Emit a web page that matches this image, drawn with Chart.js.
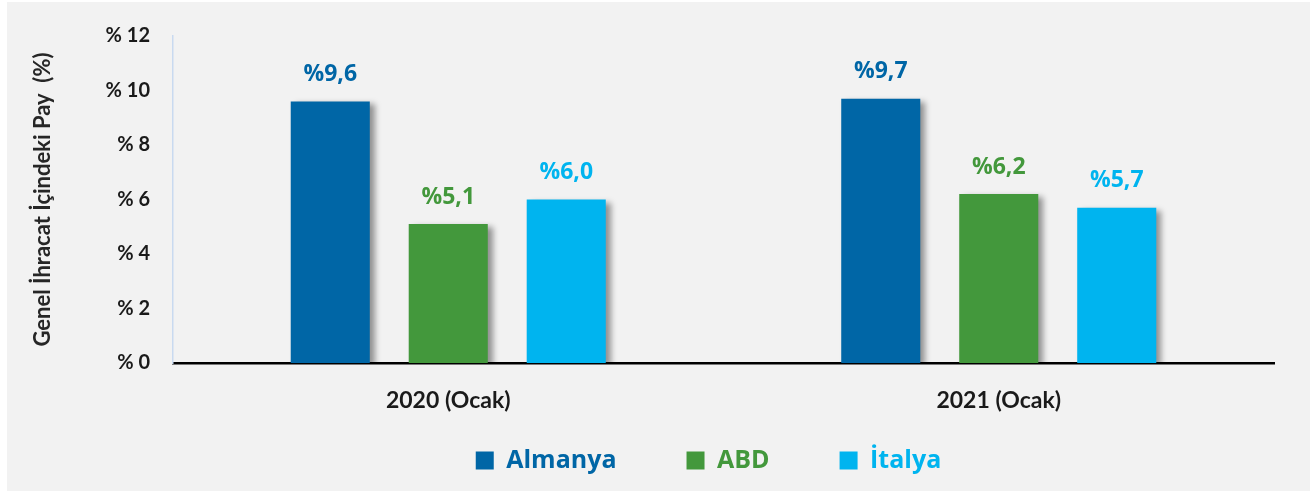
<!DOCTYPE html>
<html>
<head>
<meta charset="utf-8">
<script src="https://cdn.jsdelivr.net/npm/chart.js@4.4.1/dist/chart.umd.min.js"></script>
<style>
  html, body { margin: 0; padding: 0; background: #ffffff; }
  #wrap { width: 1312px; height: 494px; }
</style>
</head>
<body>
<div id="wrap"><canvas id="c" width="1312" height="494"></canvas></div>
<script>
const categories = ['2020 (Ocak)', '2021 (Ocak)'];
const seriesNames = ['Almanya', 'ABD', 'İtalya'];
const almanya = [9.6, 9.7];
const abd = [5.1, 6.2];
const italya = [6.0, 5.7];
const yTicks = [0, 2, 4, 6, 8, 10, 12];
const yTitle = 'Genel İhracat İçindeki Pay  (%)';
const colors = ['#0066a6', '#43983c', '#00b4ef'];

const bgPlugin = {
  id: 'bg',
  beforeDraw(chart) {
    const ctx = chart.ctx;
    ctx.save();
    ctx.fillStyle = '#ffffff';
    ctx.fillRect(0, 0, chart.width, chart.height);
    ctx.fillStyle = '#f2f2f2';
    ctx.fillRect(7, 2, 1303, 489);
    ctx.restore();
  }
};

const shadowLabelPlugin = {
  id: 'shadowLabels',
  beforeDatasetsDraw(chart) {
    const ctx = chart.ctx;
    ctx.save();
    ctx.shadowColor = 'rgba(0,0,0,0.4)';
    ctx.shadowBlur = 6;
    ctx.shadowOffsetX = 5;
    ctx.shadowOffsetY = 3;
  },
  afterDatasetsDraw(chart) {
    const ctx = chart.ctx;
    ctx.restore();
    ctx.save();
    ctx.font = 'bold 23px "Open Sans"';
    ctx.textAlign = 'center';
    ctx.textBaseline = 'middle';
    chart.data.datasets.forEach((ds, i) => {
      const meta = chart.getDatasetMeta(i);
      ctx.fillStyle = ds.backgroundColor;
      meta.data.forEach((el, j) => {
        const v = ds.data[j];
        const txt = '%' + v.toFixed(1).replace('.', ',');
        ctx.fillText(txt, el.x, el.y - 27);
      });
    });
    ctx.restore();
  }
};

const layoutFix = {
  id: 'layoutFix',
  afterLayout(chart) {
    const lg = chart.legend;
    if (lg) { lg.left += 68; lg.right += 68; }
    // widen the x-axis label clip area so the tick labels below the thin axis box are visible
    if (chart.scales.x) { chart.scales.x.bottom += 60; }
  }
};

new Chart(document.getElementById('c'), {
  type: 'bar',
  data: {
    labels: categories,
    datasets: [
      { label: seriesNames[0], data: almanya, backgroundColor: colors[0] },
      { label: seriesNames[1], data: abd, backgroundColor: colors[1] },
      { label: seriesNames[2], data: italya, backgroundColor: colors[2] }
    ]
  },
  options: {
    responsive: false,
    animation: false,
    devicePixelRatio: 1,
    layout: { padding: { left: 7, right: 38, top: 36, bottom: 11 } },
    datasets: { bar: { categoryPercentage: 0.643, barPercentage: 0.67, borderWidth: 0 } },
    plugins: {
      tooltip: { enabled: false },
      legend: {
        position: 'bottom',
        labels: {
          boxWidth: 18,
          boxHeight: 18,
          padding: 70,
          font: { family: '"Open Sans"', size: 25, weight: 'bold' },
          generateLabels(chart) {
            return chart.data.datasets.map((ds, i) => ({
              text: ds.label,
              fillStyle: ds.backgroundColor,
              strokeStyle: ds.backgroundColor,
              lineWidth: 0,
              fontColor: ds.backgroundColor,
              hidden: false,
              datasetIndex: i
            }));
          }
        }
      }
    },
    scales: {
      x: {
        grid: { display: false, drawTicks: false },
        border: { display: true, color: '#000000', width: 2.5 },
        ticks: {
          color: '#1a1a1a',
          padding: 24,
          autoSkip: false,
          maxRotation: 0,
          font: { family: 'Lato', size: 23, weight: 'bold' }
        },
        afterFit(scale) { scale.height = 15; }
      },
      y: {
        min: 0,
        max: 12,
        afterBuildTicks(scale) { scale.ticks = yTicks.map(v => ({ value: v })); },
        grid: { display: false, drawTicks: false },
        border: { display: true, color: '#c9daf0', width: 1.5 },
        ticks: {
          color: '#1a1a1a',
          padding: 23,
          font: { family: 'Lato', size: 20, weight: 'bold' },
          callback: (v) => '% ' + v
        },
        title: {
          display: true,
          text: yTitle,
          color: '#262626',
          font: { family: 'Lato', size: 22, weight: 'bold' },
          padding: { top: 23, bottom: 0 }
        },
        afterFit(scale) { scale.width = 166; }
      }
    }
  },
  plugins: [bgPlugin, shadowLabelPlugin, layoutFix]
});
</script>
</body>
</html>
